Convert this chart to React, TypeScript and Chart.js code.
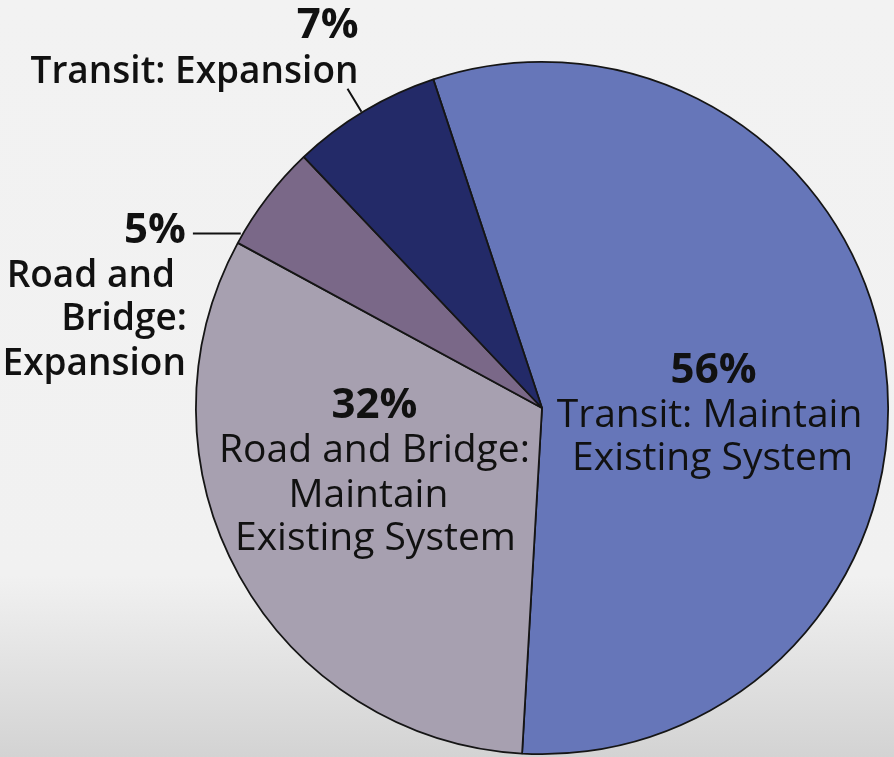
import React, { useEffect, useRef } from "react";
import { Chart, registerables } from "chart.js";

Chart.register(...registerables);

const categories = [
  "Transit: Maintain Existing System",
  "Road and Bridge: Maintain Existing System",
  "Road and Bridge: Expansion",
  "Transit: Expansion",
];
const shares = [56, 32, 5, 7];
const sliceColors = ["#6676b9", "#a7a0b0", "#7a6888", "#232a68"];
const percentLabels = ["56%", "32%", "5%", "7%"];
const labelLines = [
  ["Transit: Maintain", "Existing System"],
  ["Road and Bridge:", "Maintain", "Existing System"],
  ["Road and", "Bridge:", "Expansion"],
  ["Transit: Expansion"],
];

const FONT = "'Open Sans', 'Noto Sans', sans-serif";

const labelPlugin = {
  id: "pieLabels",
  afterDraw(chart: any) {
    const arc = chart.getDatasetMeta(0).data[0];
    if (!arc) return;
    const cx = arc.x;
    const cy = arc.y;
    const s = arc.outerRadius / 347;
    const ctx = chart.ctx;
    const X = (d: number) => cx + d * s;
    const Y = (d: number) => cy + d * s;
    ctx.save();
    ctx.fillStyle = "#111111";
    ctx.textBaseline = "alphabetic";
    const pctFont = `bold ${Math.round(42 * s)}px ${FONT}`;
    const txtFont = `normal ${Math.round(39 * s)}px ${FONT}`;
    const outFont = `600 ${Math.round(37 * s)}px ${FONT}`;

    // 56% (inside)
    ctx.textAlign = "center";
    ctx.font = pctFont;
    ctx.fillText(percentLabels[0], X(172), Y(-25));
    ctx.font = txtFont;
    ctx.fillText(labelLines[0][0], X(168), Y(19));
    ctx.fillText(labelLines[0][1], X(171), Y(62));

    // 32% (inside)
    ctx.font = pctFont;
    ctx.fillText(percentLabels[1], X(-168), Y(10));
    ctx.font = txtFont;
    ctx.fillText(labelLines[1][0], X(-168), Y(54));
    ctx.fillText(labelLines[1][1], X(-174), Y(99));
    ctx.fillText(labelLines[1][2], X(-167), Y(142));

    // 5% (outside, left)
    ctx.textAlign = "right";
    ctx.font = pctFont;
    ctx.fillText(percentLabels[2], X(-357), Y(-165));
    ctx.font = outFont;
    ctx.fillText(labelLines[2][0], X(-368), Y(-121));
    ctx.fillText(labelLines[2][1], X(-356), Y(-78));
    ctx.fillText(labelLines[2][2], X(-357), Y(-33));

    // 7% (outside, top-left)
    ctx.font = pctFont;
    ctx.fillText(percentLabels[3], X(-184), Y(-371));
    ctx.font = outFont;
    ctx.fillText(labelLines[3][0], X(-184), Y(-326));

    // leader lines
    ctx.strokeStyle = "#111111";
    ctx.lineWidth = 2 * s;
    ctx.beginPath();
    ctx.moveTo(X(-350), Y(-175));
    ctx.lineTo(X(-302), Y(-175));
    ctx.moveTo(X(-195), Y(-320));
    ctx.lineTo(X(-181), Y(-297));
    ctx.stroke();
    ctx.restore();
  },
};

export default function App() {
  const ref = useRef<HTMLCanvasElement | null>(null);
  useEffect(() => {
    if (!ref.current) return;
    const chart = new Chart(ref.current, {
      type: "pie",
      data: {
        labels: categories,
        datasets: [
          {
            data: shares,
            backgroundColor: sliceColors,
            borderColor: "#151515",
            borderWidth: 1.8,
          },
        ],
      },
      options: {
        responsive: false,
        animation: false,
        rotation: -18.3,
        layout: { padding: { left: 195, right: 5, top: 61, bottom: 2 } },
        plugins: {
          legend: { display: false },
          tooltip: { enabled: false },
          title: { display: false },
        },
      },
      plugins: [labelPlugin],
    });
    return () => chart.destroy();
  }, []);
  return (
    <div
      style={{
        position: "fixed",
        left: 0,
        top: 0,
        width: 894,
        height: 757,
        background:
          "linear-gradient(to bottom, #f2f2f2 0%, #f1f1f1 76%, #d3d3d3 100%)",
      }}
    >
      <canvas ref={ref} width={894} height={757} style={{ display: "block" }} />
    </div>
  );
}
